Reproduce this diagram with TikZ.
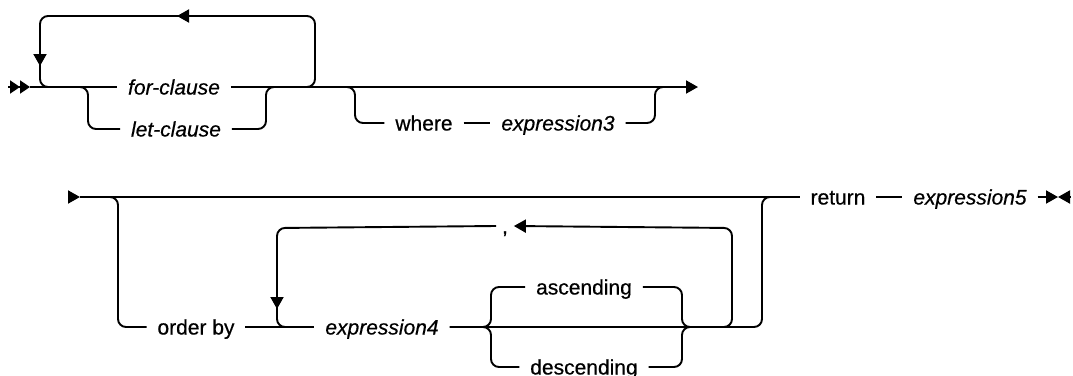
\documentclass[tikz,border=0pt]{standalone}
\usepackage{fontspec}
\setmainfont[FakeBold=0.5]{Liberation Sans}
\usetikzlibrary{arrows.meta}
\begin{document}
\begin{tikzpicture}[x=1pt,y=-1pt,line width=1.9pt,line join=round,
		font=\fontsize{21}{24}\selectfont,
		rail/.style={rounded corners=8pt},
		arr/.style={-{Triangle[length=12pt,width=13pt]}},
		kw/.style={inner xsep=10pt,inner ysep=0pt,text height=15pt,text depth=0pt},
		var/.style={kw,font=\fontsize{21}{24}\selectfont\itshape}]
		\useasboundingbox (0,0) rectangle (1073,375);
		\path (8,87) coordinate (s1)
		(30,87) coordinate (s1e)
		(80,87) coordinate (a1)
		(274,87) coordinate (a2)
		(300,87) coordinate (a3)
		(56,87) coordinate (a4)
		(347,87) coordinate (a5)
		(663,87) coordinate (a6)
		(698,87) coordinate (e1)
		(40,16) coordinate (lpL)
		(315,16) coordinate (lpR)
		(88,129) coordinate (letL)
		(266,129) coordinate (letR)
		(355,123) coordinate (whL)
		(655,123) coordinate (whR)
		(196,16) coordinate (t1)
		(177,16) coordinate (t2)
		(40,46) coordinate (t3)
		(40,66) coordinate (t4);
		\node[var] (for) at (174,87) {for-clause};
		\node[var] (let) at (176,129) {let-clause};
		\node[kw] (where) at (424,123) {where};
		\node[var] (exp3) at (558,123) {expression3};
		\draw[-{Triangle[length=10pt,width=13pt] Triangle[length=10pt,width=13pt]}] (s1) -- (s1e);
		\draw (s1e) -- (for.west);
		\draw[arr] (for.east) -- (e1);
		\draw[rail] (a1) -| (letL) -- (let.west);
		\draw[rail] (let.east) -- (letR) |- (a2);
		\draw[rail] (a3) -| (lpR) -- (lpL) |- (a4);
		\draw[arr] (t1) -- (t2);
		\draw[arr] (t3) -- (t4);
		\draw[rail] (a5) -| (whL) -- (where.west);
		\draw (where.east) -- (exp3.west);
		\draw[rail] (exp3.east) -- (whR) |- (a6);
		
		\path (68,197) coordinate (s2)
		(80,197) coordinate (s2e)
		(110,197) coordinate (b1)
		(118,327) coordinate (obL)
		(724,327) coordinate (b3)
		(732,228) coordinate (rpR)
		(277,228) coordinate (rpL)
		(293,327) coordinate (b4)
		(762,327) coordinate (obR)
		(770,197) coordinate (b9)
		(483,327) coordinate (c1)
		(690,327) coordinate (c2)
		(491,287) coordinate (ascL)
		(682,287) coordinate (ascR)
		(491,367) coordinate (descL)
		(682,367) coordinate (descR)
		(277,289) coordinate (t5)
		(277,309) coordinate (t6)
		(1058,197) coordinate (etip)
		(1070,197) coordinate (eR);
		\node[kw] (ob) at (196,327) {order by};
		\node[var] (exp4) at (382,327) {expression4};
		\node[kw] (asc) at (584,287) {ascending};
		\node[kw] (desc) at (584,367) {descending};
		\node[kw,inner xsep=5pt] (comma) at (505,226) {,};
		\node[kw] (ret) at (838,197) {return};
		\node[var] (exp5) at (970,197) {expression5};
		\draw[arr] (s2) -- (s2e);
		\draw (s2e) -- (ret.west);
		\draw[rail] (b1) -| (obL) -- (ob.west);
		\draw (ob.east) -- (exp4.west);
		\draw[rail] (exp4.east) -- (obR) |- (b9);
		\draw[rail] (c1) -| (ascL) -- (asc.west);
		\draw[rail] (c1) -| (descL) -- (desc.west);
		\draw[rail] (asc.east) -- (ascR) |- (c2);
		\draw[rail] (desc.east) -- (descR) |- (c2);
		\draw[rail,arr] (b3) -| (rpR) -- (comma.east);
		\draw[rail] (comma.west) -- (rpL) |- (b4);
		\draw[arr] (t5) -- (t6);
		\draw (ret.east) -- (exp5.west);
		\draw[arr] (exp5.east) -- (etip);
		\draw[arr] (eR) -- (etip);
	\end{tikzpicture}
\end{document}
